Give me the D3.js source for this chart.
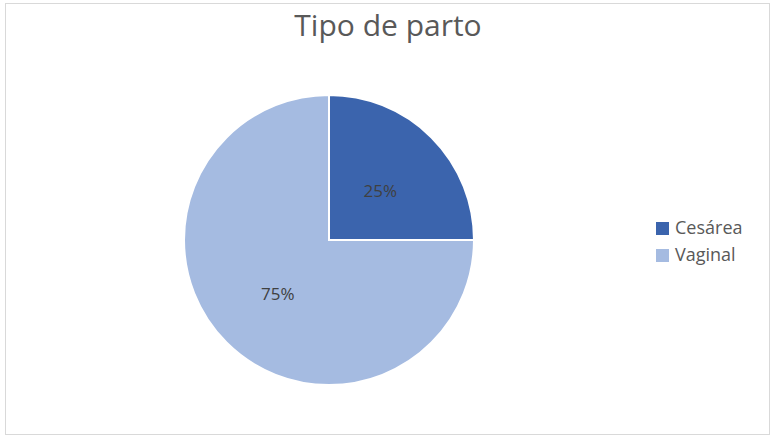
<!DOCTYPE html>
<html>
<head>
<meta charset="utf-8">
<script src="https://cdn.jsdelivr.net/npm/d3@7"></script>
<style>
  body { margin: 0; background: #fff; }
  svg { display: block; font-family: "Open Sans", "Liberation Sans", sans-serif; }
</style>
</head>
<body>
<svg id="chart" width="772" height="440"></svg>
<script>
// chart data
const categories = ["Cesárea", "Vaginal"];
const values = [25, 75];
const colors = ["#3B64AD", "#A5BBE1"];
const title = "Tipo de parto";

const svg = d3.select("#chart");

// outer frame
svg.append("rect")
    .attr("x", 5.5).attr("y", 3.5)
    .attr("width", 764).attr("height", 431)
    .attr("fill", "#fff")
    .attr("stroke", "#d9d9d9");

svg.append("text")
    .attr("x", 388).attr("y", 36)
    .attr("text-anchor", "middle")
    .attr("font-size", 30)
    .attr("fill", "#595959")
    .text(title);

const cx = 329, cy = 240, r = 145;
const total = d3.sum(values);

const pie = d3.pie().sort(null).value(d => d);
const arc = d3.arc().innerRadius(0).outerRadius(r);
const labelArc = d3.arc().innerRadius(r * 0.5).outerRadius(r * 0.5);

const g = svg.append("g").attr("transform", `translate(${cx},${cy})`);
const arcs = pie(values);

g.selectAll("path")
    .data(arcs)
    .enter()
    .append("path")
    .attr("d", arc)
    .attr("fill", (d, i) => colors[i])
    .attr("stroke", "#fff")
    .attr("stroke-width", 2);

g.selectAll("text")
    .data(arcs)
    .enter()
    .append("text")
    .attr("transform", d => `translate(${labelArc.centroid(d)})`)
    .attr("text-anchor", "middle")
    .attr("dy", "0.5em")
    .attr("font-size", 17)
    .attr("fill", "#404040")
    .text(d => Math.round(d.data / total * 100) + "%");

// legend
const legend = svg.append("g").attr("transform", "translate(656,222)");
const item = legend.selectAll("g")
    .data(categories)
    .enter()
    .append("g")
    .attr("transform", (d, i) => `translate(0,${i * 27})`);
item.append("rect")
    .attr("width", 13).attr("height", 13)
    .attr("fill", (d, i) => colors[i]);
item.append("text")
    .attr("x", 19).attr("y", 12)
    .attr("font-size", 18)
    .attr("fill", "#595959")
    .text(d => d);
</script>
</body>
</html>
